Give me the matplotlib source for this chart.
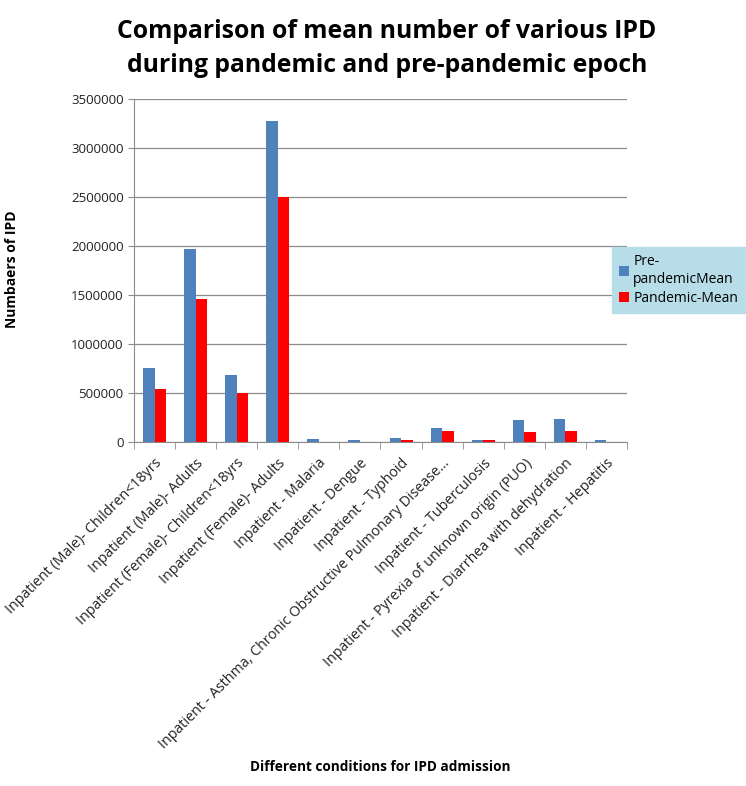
import numpy as np
import matplotlib.pyplot as plt

plt.rcParams['font.family'] = ['Open Sans', 'DejaVu Sans']

# 数据
categories = [
    'Inpatient (Male)- Children<18yrs',
    'Inpatient (Male)- Adults',
    'Inpatient (Female)- Children<18yrs',
    'Inpatient (Female)- Adults',
    'Inpatient - Malaria',
    'Inpatient - Dengue',
    'Inpatient - Typhoid',
    'Inpatient - Asthma, Chronic Obstructive Pulmonary Disease...',
    'Inpatient - Tuberculosis',
    'Inpatient - Pyrexia of unknown origin (PUO)',
    'Inpatient - Diarrhea with dehydration',
    'Inpatient - Hepatitis',
]
pre_mean = [755000, 1970000, 684000, 3275000, 30000, 15000, 45000, 146000, 15000, 224000, 235000, 15000]
pan_mean = [540000, 1460000, 500000, 2500000, 3000, 3000, 18000, 110000, 15000, 99000, 110000, 2000]


def main():
    fig = plt.figure(figsize=(7.46, 7.86), dpi=100)
    ax = fig.add_axes([0.1796, 0.4377, 0.6609, 0.4363])

    x = np.arange(len(categories))
    w = 0.28
    ax.bar(x - w / 2, pre_mean, w, color='#4f81bd', label='Pre-\npandemicMean', zorder=3)
    ax.bar(x + w / 2, pan_mean, w, color='#ff0000', label='Pandemic-Mean', zorder=3)

    ax.set_xlim(-0.5, len(categories) - 0.5)
    ax.set_ylim(0, 3500000)
    ax.set_yticks(np.arange(0, 3500001, 500000))
    ax.set_yticklabels([str(v) for v in range(0, 3500001, 500000)], fontsize=9.5, color='#222222')
    ax.yaxis.grid(True, color='#8c8c8c', linewidth=0.9, zorder=0)

    ax.set_xticks(x)
    ax.set_xticklabels(categories, rotation=45, ha='right', rotation_mode='anchor',
                       fontsize=10.3, color='#222222')
    ax.tick_params(axis='x', which='major', length=0, pad=10)
    ax.set_xticks(np.arange(-0.5, len(categories), 1), minor=True)
    ax.tick_params(axis='x', which='minor', length=5, color='#8c8c8c', direction='out')
    ax.tick_params(axis='y', length=4, color='#8c8c8c', direction='out')

    for s in ['top', 'right']:
        ax.spines[s].set_visible(False)
    for s in ['left', 'bottom']:
        ax.spines[s].set_color('#8c8c8c')

    fig.text(0.519, 0.938, 'Comparison of mean number of various IPD\nduring pandemic and pre-pandemic epoch',
             ha='center', va='center', fontsize=17.8, fontweight='bold', linespacing=1.45)
    fig.text(0.51, 0.024, 'Different conditions for IPD admission', ha='center', va='center',
             fontsize=9.8, fontweight='bold')
    fig.text(0.016, 0.657, 'Numbaers of IPD', ha='center', va='center', rotation=90,
             fontsize=10, fontweight='bold')

    leg = fig.legend(loc='upper left', bbox_to_anchor=(0.82, 0.686), fontsize=10,
                     frameon=True, fancybox=False, handlelength=0.7, handletextpad=0.3,
                     borderpad=0.55, labelspacing=0.3, borderaxespad=0)
    leg.get_frame().set_facecolor('#b7dde8')
    leg.get_frame().set_edgecolor('#b7dde8')
    leg.get_frame().set_alpha(1)

    fig.savefig('out.png', dpi=100)


if __name__ == "__main__":
    main()
